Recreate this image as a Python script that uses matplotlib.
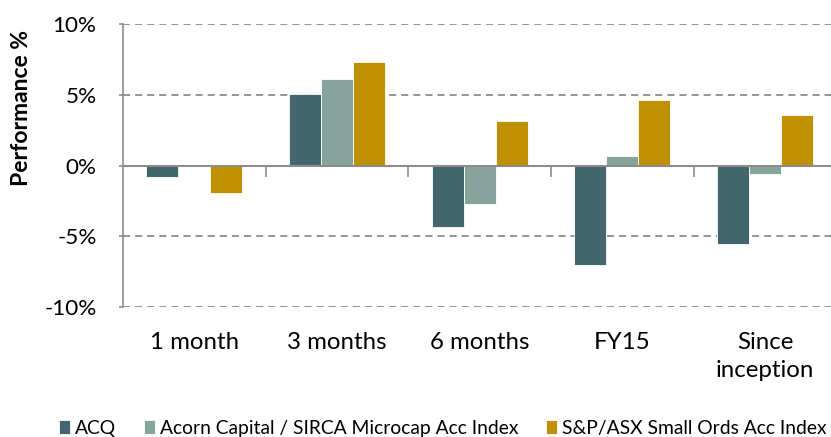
import numpy as np
import matplotlib
matplotlib.use("Agg")
import matplotlib.pyplot as plt
from matplotlib.ticker import FuncFormatter

# Data (percent)
periods = ["1 month", "3 months", "6 months", "FY15", "Since\ninception"]
series_names = ["ACQ", "Acorn Capital / SIRCA Microcap Acc Index", "S&P/ASX Small Ords Acc Index"]
acq = [-0.8, 5.1, -4.3, -7.0, -5.55]
acorn = [0.0, 6.1, -2.7, 0.7, -0.55]
small_ords = [-1.95, 7.3, 3.15, 4.65, 3.6]
colors = ["#43666e", "#86a39c", "#bf9000"]

plt.rcParams['font.family'] = ['Lato', 'DejaVu Sans']

fig = plt.figure(figsize=(8.31, 4.37), dpi=100)
ax = fig.add_axes([0.148, 0.297, 0.8586, 0.6474])

x = np.arange(len(periods))
width = 0.224
for i, (vals, name) in enumerate(zip([acq, acorn, small_ords], series_names)):
    ax.bar(x + (i - 1) * width, vals, width, color=colors[i], label=name,
           edgecolor="white", linewidth=0.6, zorder=3)

ax.set_xlim(-0.5, len(periods) - 0.5)
ax.set_ylim(-10, 10)
ax.set_yticks([-10, -5, 0, 5, 10])
ax.yaxis.set_major_formatter(FuncFormatter(lambda v, p: f"{v:.0f}%"))
ax.grid(axis="y", color="#8c8c8c", linestyle=(0, (3.9, 2.8)), linewidth=1.3, zorder=0)

for s in ["top", "right"]:
    ax.spines[s].set_visible(False)
ax.spines["left"].set_color("#8c8c8c")
ax.spines["left"].set_linewidth(1.2)
ax.spines["bottom"].set_position(("data", 0))
ax.spines["bottom"].set_color("#8c8c8c")
ax.spines["bottom"].set_linewidth(1.5)
ax.spines["bottom"].set_zorder(4)

# zero axis: tick marks between categories, no labels
ax.set_xticks(x[:-1] + 0.5)
ax.set_xticklabels([])
ax.tick_params(axis="x", length=8, width=1.2, color="#8c8c8c", direction="out")
ax.tick_params(axis="y", length=3, width=1.2, color="#8c8c8c", labelsize=16.2, pad=16)

# category labels at the bottom of the plot area
sec = ax.secondary_xaxis("bottom")
sec.set_xticks(x)
sec.set_xticklabels(periods, fontsize=17.3, linespacing=1.4)
sec.tick_params(length=0, pad=18)
sec.spines["bottom"].set_visible(False)

fig.text(0.026, 0.753, "Performance %", rotation=90, fontsize=16.5, fontweight="bold",
         ha="center", va="center")

fig.legend(loc="center", bbox_to_anchor=(0.533, 0.02), ncol=3, frameon=False,
           fontsize=13.9, handlelength=0.55, handleheight=0.7, handletextpad=0.26,
           columnspacing=1.45, borderaxespad=0, borderpad=0)

fig.savefig("out.png", dpi=100)
